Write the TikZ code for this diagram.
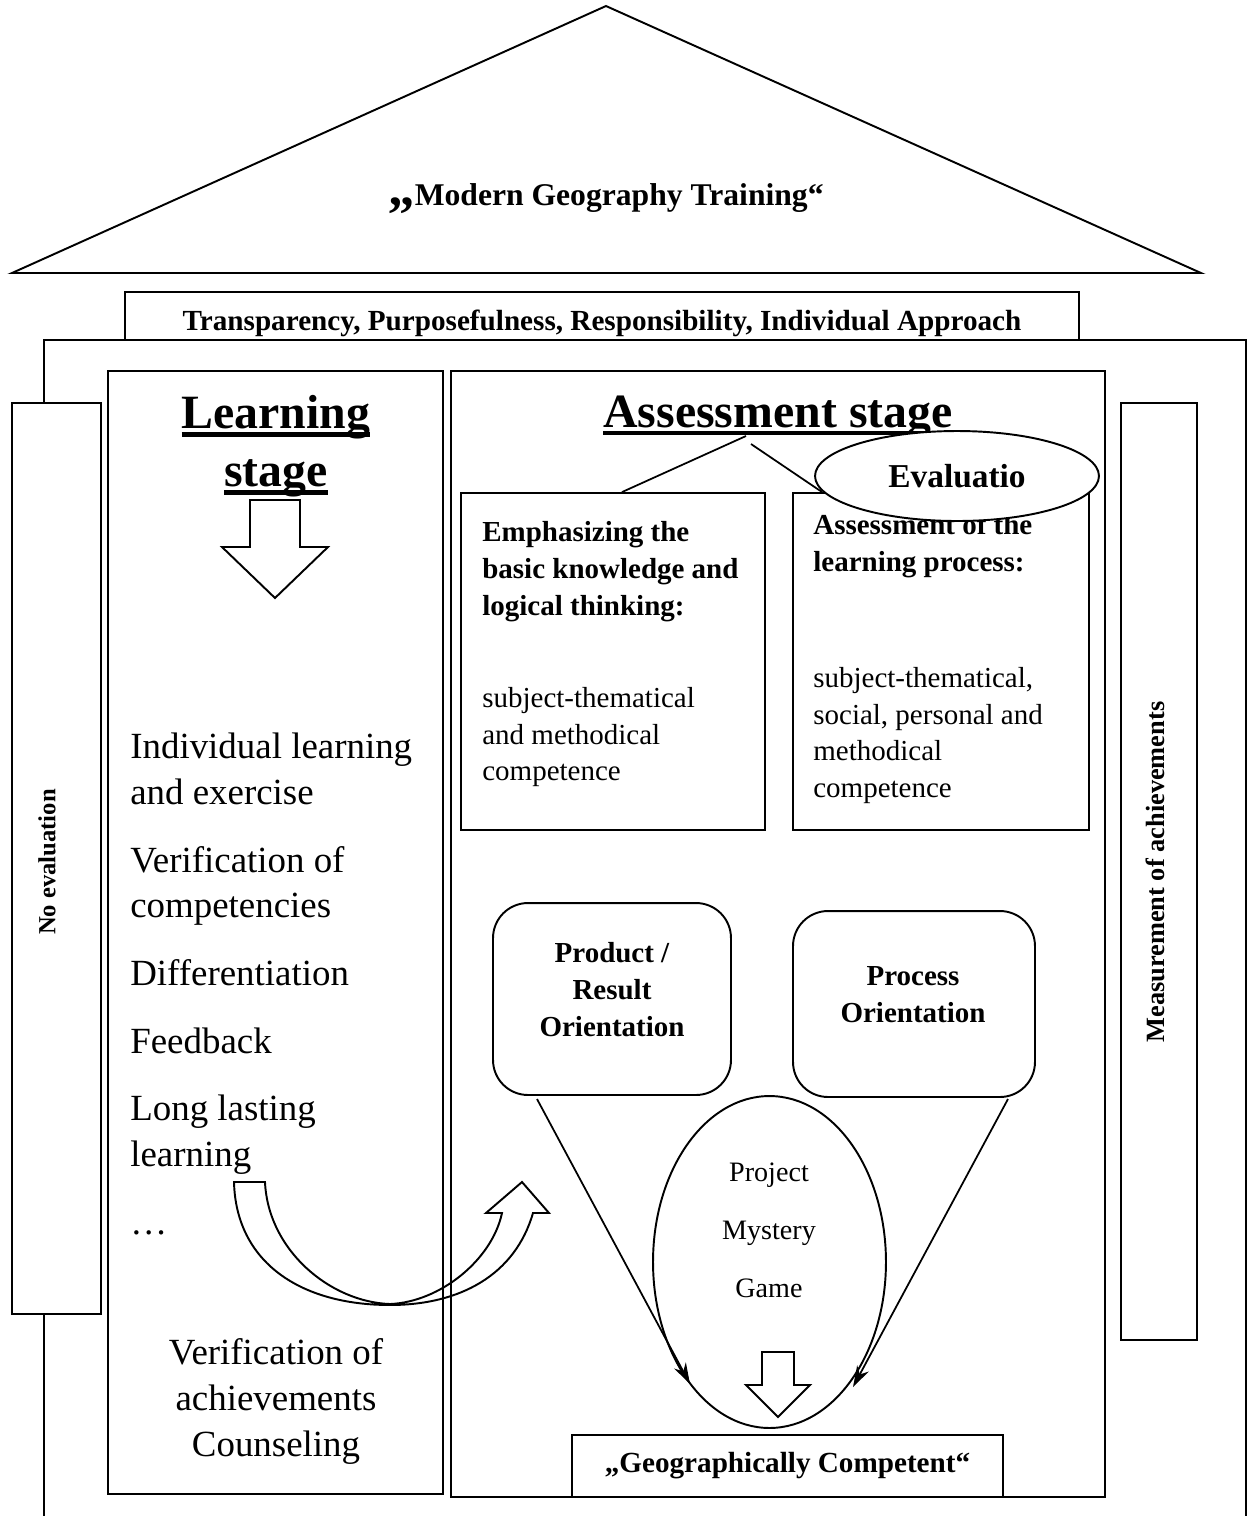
\documentclass[tikz,border=0pt]{standalone}
\usepackage{fontspec}
\setmainfont{Liberation Serif}
\usetikzlibrary{arrows.meta,shapes.geometric}

\newcommand\stageul[1]{\setbox0=\hbox{#1}\rlap{\vrule width\wd0 height -2.2pt depth 4.6pt}\box0}

\begin{document}
\begin{tikzpicture}[x=0.02cm, y=-0.02cm]
        \tikzset{
            box/.style = {rectangle, draw=black, line width=1.1pt, fill=white, inner sep=0pt},
            roundbox/.style = {box, rounded corners=0.7cm},
            txt/.style = {inner sep=0pt, text=black},
            arrow/.style = {line width=1pt, -{Stealth[length=12pt,width=7.5pt]}},
            hollow/.style = {line width=1.1pt, line join=miter}
        }
        \useasboundingbox (0,0) rectangle (1247,1516);

        % roof and frame
        \draw[line width=1.1pt] (12,273) -- (606,6) -- (1201,273) -- cycle;
        \node (roof) [txt, anchor=base, font=\bfseries\fontsize{18}{22}\selectfont] at (606,205) {{\fontsize{30}{30}\selectfont „}Modern Geography Training“};
        \node (banner) [box, minimum width=19.08cm, minimum height=0.96cm] at (602,316) {};
        \node (values) [txt, anchor=base, font=\bfseries\fontsize{16.6}{20}\selectfont] at (602,330) {Transparency, Purposefulness, Responsibility, Individual Approach};
        \draw[line width=1.1pt] (44,1516) -- (44,340) -- (1246,340) -- (1246,1516);

        % pillars
        \node (noeval) [box, minimum width=1.78cm, minimum height=18.22cm] at (56.5,858.5) {};
        \node (noevaltext) [txt, rotate=90, font=\bfseries\fontsize{14}{16}\selectfont] at (47,862) {No evaluation};
        \node (measure) [box, minimum width=1.52cm, minimum height=18.74cm] at (1159,871.5) {};
        \node (measuretext) [txt, rotate=90, font=\bfseries\fontsize{15}{17}\selectfont] at (1155,872) {Measurement of achievements};

        % learning stage
        \node (learn) [box, minimum width=6.7cm, minimum height=22.46cm] at (275.5,932.5) {};
        \node (ltitle) [txt, anchor=north, align=center, font=\bfseries\fontsize{27.2}{33}\selectfont] at (276,395) {\stageul{Learning}\\\stageul{stage}};
        \draw[hollow] (250,500) -- (300,500) -- (300,547) -- (328,547) -- (275,598) -- (222,547) -- (250,547) -- cycle;
        \node (steps) [txt, anchor=north west, align=left, font=\fontsize{21}{26}\selectfont] at (130,733) {Individual learning\\and exercise\\[12.5pt]Verification of\\competencies\\[12.5pt]Differentiation\\[12.5pt]Feedback\\[12.5pt]Long lasting\\learning\\[12.5pt]…};
        \node (verify) [txt, anchor=north, align=center, font=\fontsize{21}{26.3}\selectfont] at (276,1338) {Verification of\\achievements\\Counseling};

        % assessment stage
        \node (assess) [box, minimum width=13.08cm, minimum height=22.52cm] at (778,934) {};
        \node (atitle) [txt, anchor=base, font=\bfseries\fontsize{27.2}{33}\selectfont] at (778,427) {\stageul{Assessment stage}};
        \node (basics) [box, minimum width=6.08cm, minimum height=6.74cm] at (613,661.5) {};
        \node (basicshead) [txt, anchor=north west, align=left, font=\bfseries\fontsize{16.5}{21}\selectfont] at (482,521) {Emphasizing the\\basic knowledge and\\logical thinking:};
        \node (basicsbody) [txt, anchor=north west, align=left, font=\fontsize{16.5}{20.8}\selectfont] at (482,687) {subject-thematical\\and methodical\\competence};
        \node (process) [box, minimum width=5.92cm, minimum height=6.74cm] at (941,661.5) {};
        \node (processhead) [txt, anchor=north west, align=left, font=\bfseries\fontsize{16.5}{21}\selectfont] at (813,514) {Assessment of the\\learning process:};
        \node (processbody) [txt, anchor=north west, align=left, font=\fontsize{16.5}{20.8}\selectfont] at (813,667) {subject-thematical,\\social, personal and\\methodical\\competence};
        \coordinate (split) at (746,436);
        \coordinate (split2) at (751,444);
        \draw[line width=1pt] (split) -- ([xshift=0.18cm]basics.north);
        \draw[line width=1pt] (split2) -- ([xshift=0.6cm]process.north west);
        \node (evaln) [ellipse, draw, line width=1.1pt, fill=white, minimum width=5.68cm, minimum height=1.8cm, inner sep=0pt, font=\bfseries\fontsize{19}{22}\selectfont] at (957,476) {Evaluatio};

        \node (product) [roundbox, minimum width=4.76cm, minimum height=3.84cm] at (612,999) {};
        \node (producttext) [txt, anchor=north, align=center, font=\bfseries\fontsize{16.5}{21}\selectfont] at (612,942) {Product /\\Result\\Orientation};
        \node (procor) [roundbox, minimum width=4.84cm, minimum height=3.72cm] at (914,1004) {};
        \node (procortext) [txt, anchor=north, align=center, font=\bfseries\fontsize{16.5}{21}\selectfont] at (913,966) {Process\\Orientation};

        \node (methods) [ellipse, draw, line width=1.1pt, minimum width=4.66cm, minimum height=6.64cm, inner sep=0pt] at (769.5,1262) {};
        \node (methodstext) [txt, anchor=north, align=center, font=\fontsize{16}{33}\selectfont] at (769,1163) {Project\\Mystery\\Game};
        \draw[hollow] (762,1352) -- (794,1352) -- (794,1385) -- (810,1385) -- (778,1417) -- (746,1385) -- (762,1385) -- cycle;

        \coordinate (ptail) at (537,1099);
        \coordinate (ptip) at (690,1384);
        \coordinate (qtail) at (1008,1099);
        \coordinate (qtip) at (853,1387);
        \draw[arrow] (ptail) -- (ptip);
        \draw[arrow] (qtail) -- (qtip);

        \node (goal) [box, minimum width=8.62cm, minimum height=1.24cm, font=\bfseries\fontsize{16.6}{20}\selectfont] at (787.5,1466) {„Geographically Competent“};

        % bent arrow between the stages
        \draw[hollow] (234,1182) -- (265,1182) .. controls (268,1250) and (330,1302) .. (390,1304)
            .. controls (440,1302) and (492,1260) .. (502,1213) -- (486,1213) -- (522,1182) -- (549,1213) -- (533,1213)
            .. controls (515,1275) and (460,1305) .. (390,1305) .. controls (300,1305) and (236,1262) .. (234,1182) -- cycle;

    \end{tikzpicture}
\end{document}
